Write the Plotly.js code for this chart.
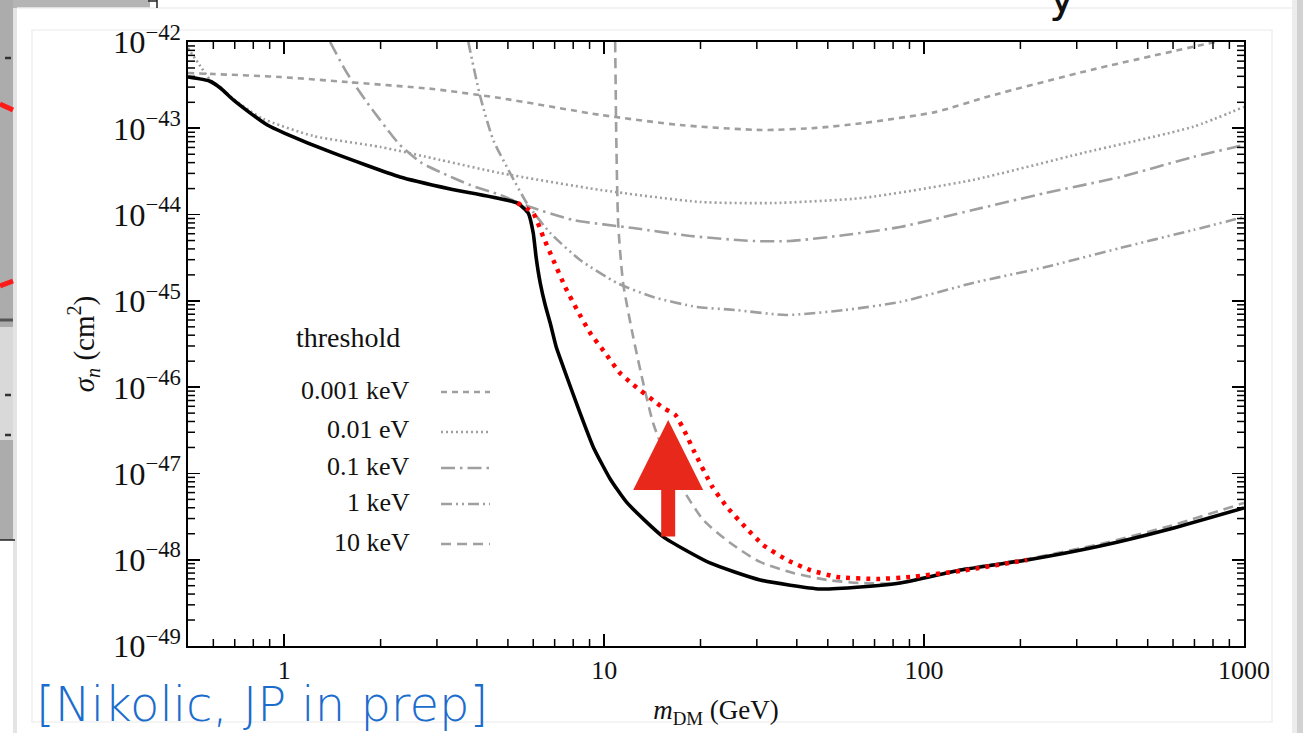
<!DOCTYPE html>
<html>
<head>
<meta charset="utf-8">
<script src="https://cdn.plot.ly/plotly-3.0.1.min.js"></script>
<style>
html,body{margin:0;padding:0;background:#fff;overflow:hidden}
#chart{width:1303px;height:733px}
</style>
</head>
<body>
<div id="chart"></div>
<script>
// ---------- data ----------
// combined bound (black solid)
const massBound = [0.5,0.583,0.631,0.693,0.783,0.885,1.0,1.42,2.30,3.30,5.35,5.79,6.00,6.13,6.31,6.54,6.78,7.08,7.45,8.29,9.24,10.44,11.8,15.3,21.4,30.7,47.3,63.1,84.1,130,210,355,587,1000];
const sigmaBound = [3.93e-43,3.53e-43,2.93e-43,2.13e-43,1.50e-43,1.09e-43,8.81e-44,5.18e-44,2.73e-44,1.98e-44,1.36e-44,1.04e-44,6.12e-45,3.14e-45,1.61e-45,8.95e-46,5.54e-46,2.92e-46,1.71e-46,5.74e-47,2.03e-47,8.63e-48,4.55e-48,1.84e-48,9.17e-49,5.82e-49,4.58e-49,4.83e-49,5.37e-49,7.60e-49,9.93e-49,1.44e-48,2.27e-48,3.98e-48];

// modified bound (red dotted)
const massRed = [5.35,6.00,6.45,6.93,7.55,8.23,9.04,10.07,11.2,12.24,15.3,16.7,18.2,19.0,21.8,24.2,27.6,31.4,37.3,44.0,53.5,71.3,90.4,130,210];
const sigmaRed = [1.36e-44,1.04e-44,5.50e-45,2.98e-45,1.45e-45,7.84e-46,4.25e-46,2.49e-46,1.46e-46,1.09e-46,5.74e-47,4.75e-47,2.64e-47,1.87e-47,6.97e-48,4.08e-48,2.39e-48,1.48e-48,9.93e-49,7.60e-49,6.31e-49,5.98e-49,6.31e-49,7.41e-49,9.93e-49];

// threshold curves (gray)
const mass0001keV = [0.5,0.600,0.972,1.57,2.92,4.73,9.72,17.3,31.0,46.0,64.5,109,160.8,332,811];
const sigma0001keV = [4.37e-43,4.25e-43,3.93e-43,3.44e-43,2.85e-43,2.24e-43,1.43e-43,1.09e-43,9.55e-44,1.01e-43,1.15e-43,1.55e-43,2.37e-43,4.74e-43,1e-42];

const mass001eV = [0.5,0.546,0.587,0.631,0.693,0.783,0.860,1.23,2.0,3.07,4.73,9.72,19.95,33.5,64.5,142,314,693,1000];
const sigma001eV = [8.5e-43,5.27e-43,3.63e-43,3.0e-43,2.18e-43,1.58e-43,1.28e-43,8.15e-44,6.07e-44,4.30e-44,3.03e-44,1.93e-44,1.40e-44,1.36e-44,1.56e-44,2.52e-44,5.18e-44,1.04e-43,1.77e-43];

const mass01keV = [1.39,1.57,1.82,2.19,2.30,2.66,3.07,3.81,4.73,5.75,8.0,12.32,18.6,29.2,38.1,56.6,84.1,142,240,410,693,1000];
const sigma01keV = [1e-42,4.37e-43,1.96e-43,7.92e-44,6.40e-44,4.06e-44,3.11e-44,2.20e-44,1.69e-44,1.26e-44,8.65e-45,6.98e-45,5.65e-45,4.94e-45,4.94e-45,5.79e-45,7.18e-45,1.13e-44,1.78e-44,2.72e-44,4.65e-44,6.40e-44];

const mass1keV = [3.76,4.10,4.50,5.08,5.75,6.78,8.41,10.98,14.22,19.5,25.7,37.0,56.6,84.1,142,240,410,693,1000];
const sigma1keV = [1e-42,2.31e-43,7.31e-44,3.03e-44,1.33e-44,6.12e-45,2.98e-45,1.61e-45,1.11e-45,8.49e-46,7.84e-46,6.86e-46,7.84e-46,9.70e-46,1.61e-45,2.47e-45,4.10e-45,6.62e-45,9.38e-45];

const mass10keV = [10.82,10.86,10.9,11.06,11.46,12.32,13.24,14.22,16.07,17.66,20.4,24.8,30.7,39.0,49.8,63.1,84.1,130,210,355,587,1000];
const sigma10keV = [1e-42,3.18e-43,9.55e-44,7.78e-45,1.61e-45,3.81e-46,1.12e-46,3.84e-47,1.19e-47,6.43e-48,2.89e-48,1.56e-48,9.42e-49,7.02e-49,5.82e-49,5.37e-49,5.37e-49,7.7e-49,1.02e-48,1.52e-48,2.46e-48,4.55e-48];

// legend entries
const legendTitle = 'threshold';
const legendLabels = ['0.001 keV','0.01 eV','0.1 keV','1 keV','10 keV'];

// axis ticks
const xTickVals = [1,10,100,1000];
const xTickText = ['1','10','100','1000'];

// red hand-drawn arrow (mass, tip sigma, tail sigma)
const arrowMass = 15.85;
const arrowTipSigma = 4.16e-47;
const arrowTailSigma = 1.79e-48;

const citation = '[Nikolic, JP in prep]';

// ---------- styles ----------
const GRAY = '#9f9f9f';
const dashes = ['6px,5px','2px,3px','14px,5px,2.5px,5px','11px,4px,2px,4px,2px,4px','10px,6px'];
const SERIF = 'Liberation Serif, Times New Roman, serif';

// axis ranges (log10 units)
const xRange = [Math.log10(0.5), 3];
const yRange = [-49, -42];

// minor tick positions (2..9 in each decade)
const minorX = [], minorY = [];
for (let e = -1; e <= 2; e++) for (let k = 2; k <= 9; k++) { const v = k * Math.pow(10, e); if (v > 0.5 && v < 1000) minorX.push(v); }
for (let e = -49; e <= -43; e++) for (let k = 2; k <= 9; k++) minorY.push(k * Math.pow(10, e));

// pixel -> paper helpers for the layout decorations
const PL=188, PR=1244, PT=42, PB=646;
const px = x => (x-PL)/(PR-PL);
const py = y => (PB-y)/(PB-PT);

function gray(m, s, i){
  return {x:m, y:s, mode:'lines', type:'scatter', hoverinfo:'skip', showlegend:false,
    line:{color:GRAY, width:2.6, dash:dashes[i], shape:'spline', smoothing:0.6}};
}

const traces = [
  gray(mass0001keV, sigma0001keV, 0),
  gray(mass001eV, sigma001eV, 1),
  gray(mass01keV, sigma01keV, 2),
  gray(mass1keV, sigma1keV, 3),
  gray(mass10keV, sigma10keV, 4),
  {x:massBound, y:sigmaBound, mode:'lines', type:'scatter', showlegend:false, hoverinfo:'skip',
    line:{color:'#000', width:3.6, shape:'spline', smoothing:0.5}},
  {x:massRed, y:sigmaRed, mode:'lines', type:'scatter', showlegend:false, hoverinfo:'skip',
    line:{color:'#ff0000', width:4.5, dash:'4px,6px', shape:'spline', smoothing:0.5}}
];

const shapes = [];
const annotations = [];

// minor ticks (inside, on all four sides), placed at the axis positions of the minor values
const minorLen = 7;
const tickLine = {color:'#000', width:1.5};
minorX.forEach(v=>{
  const f = (Math.log10(v)-xRange[0])/(xRange[1]-xRange[0]);
  shapes.push({type:'line', xref:'paper', yref:'paper', x0:f, x1:f, y0:0, y1:minorLen/(PB-PT), line:tickLine});
  shapes.push({type:'line', xref:'paper', yref:'paper', x0:f, x1:f, y0:1, y1:1-minorLen/(PB-PT), line:tickLine});
});
minorY.forEach(v=>{
  const f = (Math.log10(v)-yRange[0])/(yRange[1]-yRange[0]);
  shapes.push({type:'line', xref:'paper', yref:'paper', y0:f, y1:f, x0:0, x1:minorLen/(PR-PL), line:tickLine});
  shapes.push({type:'line', xref:'paper', yref:'paper', y0:f, y1:f, x0:1, x1:1-minorLen/(PR-PL), line:tickLine});
});

// legend drawn as in the reference: labels right-aligned, samples to the right
const legendY = [390,430,466,502,542];
annotations.push({xref:'paper', yref:'paper', x:px(294), y:py(337), xanchor:'left', yanchor:'middle',
  text:legendTitle, showarrow:false, font:{family:SERIF, size:28, color:'#111'}});
legendLabels.forEach((t,i)=>{
  annotations.push({xref:'paper', yref:'paper', x:px(412), y:py(legendY[i]), xanchor:'right', yanchor:'middle',
    text:t, showarrow:false, font:{family:SERIF, size:26, color:'#111'}});
  shapes.push({type:'line', xref:'paper', yref:'paper', x0:px(441), x1:px(490), y0:py(legendY[i]+2), y1:py(legendY[i]+2),
    line:{color:GRAY, width:2.6, dash:dashes[i]}});
});

// red arrow
annotations.push({x:Math.log10(arrowMass), y:Math.log10(arrowTipSigma), ax:Math.log10(arrowMass), ay:Math.log10(arrowTailSigma),
  xref:'x', yref:'y', axref:'x', ayref:'y', text:'', showarrow:true, arrowhead:2, arrowsize:1.0, arrowwidth:14, arrowcolor:'#e8281b'});

// citation text
annotations.push({xref:'paper', yref:'paper', x:px(34), y:py(734), xanchor:'left', yanchor:'bottom',
  text:citation, showarrow:false, font:{family:'DejaVu Sans, sans-serif', size:48, weight:200, color:'#1a6ccd'}});

// cut-off title glyph from the slide above
annotations.push({xref:'paper', yref:'paper', x:px(1062), y:py(24), xanchor:'center', yanchor:'bottom',
  text:'y', showarrow:false, font:{family:'DejaVu Sans, sans-serif', size:44, color:'#111'}});

// slide / card decorations
function rect(x0,y0,x1,y1,fill){
  shapes.push({type:'rect', xref:'paper', yref:'paper', x0:px(x0), x1:px(x1), y0:py(y1), y1:py(y0),
    fillcolor:fill, line:{width:0}, layer:'below'});
}
function seg(x0,y0,x1,y1,color,w){
  shapes.push({type:'line', xref:'paper', yref:'paper', x0:px(x0), x1:px(x1), y0:py(y0), y1:py(y1),
    line:{color:color, width:w}, layer:'below'});
}
rect(0,0,150,8,'#b4b4b4');
rect(0,0,13,540,'#acacac');
rect(0,327,13,440,'#d9d9d9');
rect(13,8,17,733,'#e4e4e4');
rect(1292,0,1297,733,'#ececec');
rect(1297,0,1303,733,'#d2d2d2');
seg(17,8,1292,8,'#eeeeee',1.5);
shapes.push({type:'rect', xref:'paper', yref:'paper', x0:px(32), x1:px(1272), y0:py(722), y1:py(30),
  line:{color:'#f1f1f1', width:1.5}, layer:'below'});
seg(0,104,13,110,'#ff1a1a',5);
seg(0,286,13,281,'#ff1a1a',5);
seg(0,320,13,320,'#555555',3);
seg(5,58,11,58,'#333333',2.5);
seg(5,395,11,395,'#333333',2.5);
seg(5,435,11,435,'#333333',2.5);
seg(0,540,15,540,'#222222',1.5);
seg(148,1,157,1,'#222222',1.5);
seg(157,0,157,8,'#222222',1.5);

const axisCommon = {
  showline:true, linecolor:'#000', linewidth:1.8, mirror:'ticks',
  ticks:'inside', ticklen:12, tickwidth:1.6, tickcolor:'#000',
  showgrid:false, zeroline:false,
  tickfont:{family:SERIF, size:26, color:'#111'}
};

const layout = {
  width:1303, height:733,
  margin:{l:PL, r:1303-PR, t:PT, b:733-PB, pad:0},
  paper_bgcolor:'#ffffff', plot_bgcolor:'#ffffff',
  showlegend:false,
  xaxis:Object.assign({}, axisCommon, {
    type:'log', range:xRange,
    tickmode:'array', tickvals:xTickVals, ticktext:xTickText,
    title:{text:'<i>m</i><sub>DM</sub> (GeV)', font:{family:SERIF, size:27, color:'#111'}, standoff:16}
  }),
  yaxis:Object.assign({}, axisCommon, {
    type:'log', range:yRange, dtick:1, exponentformat:'power', showexponent:'all',
    title:{text:'<i>σ</i><sub><i>n</i></sub> (cm<sup>2</sup>)', font:{family:SERIF, size:29, color:'#111'}, standoff:10}
  }),
  shapes:shapes,
  annotations:annotations
};

Plotly.newPlot('chart', traces, layout, {staticPlot:true, displayModeBar:false});
</script>
</body>
</html>
